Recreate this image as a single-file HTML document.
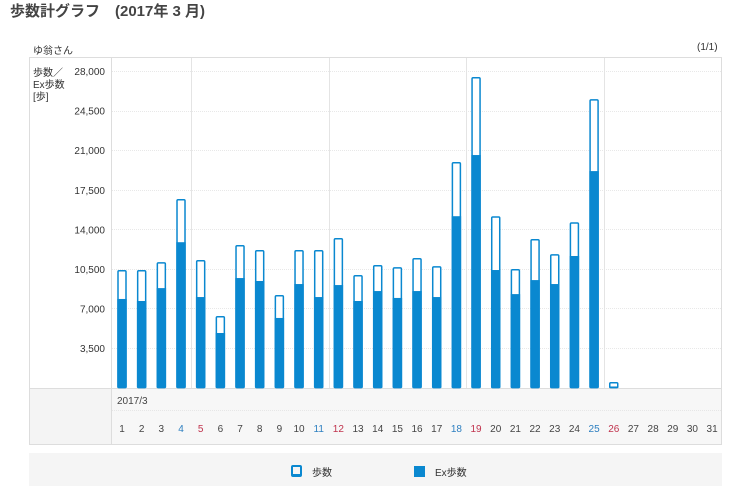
<!DOCTYPE html>
<html><head><meta charset="utf-8"><style>
body{margin:0;width:738px;height:488px;background:#fff;font-family:"Liberation Sans","Noto Sans CJK JP",sans-serif;position:relative;overflow:hidden;color:#333}
.t{position:absolute;white-space:nowrap}
</style></head><body>
<div class="t" style="left:10px;top:0px;font-size:15px;font-weight:bold;color:#444">歩数計グラフ　(2017年 3 月)</div>
<div class="t" style="left:33px;top:42px;font-size:10px">ゆ翁さん</div>
<div class="t" style="left:697px;top:42px;font-size:10px">(1/1)</div>
<svg id="chart" width="738" height="488" style="position:absolute;left:0;top:0">
<rect x="29.5" y="57.5" width="692" height="387" fill="#fff" stroke="#ddd"/>
<rect x="30" y="389" width="81" height="55" fill="#f4f4f4"/>
<rect x="111" y="389" width="610" height="55" fill="#f7f7f7"/>
<line x1="111.5" y1="58" x2="111.5" y2="444" stroke="#ddd"/>
<line x1="30" y1="388.5" x2="721" y2="388.5" stroke="#ddd"/>
<line x1="112" y1="410.5" x2="721" y2="410.5" stroke="#e6e6e6" stroke-dasharray="1,1"/>
<text x="33" y="76" font-size="10" fill="#333"><tspan x="33">歩数／</tspan><tspan x="33" dy="12">Ex歩数</tspan><tspan x="33" dy="12">[歩]</tspan></text>
<text x="117" y="404" font-size="10" fill="#444">2017/3</text>
<g id="g"></g>
</svg>
<div style="position:absolute;left:29px;top:453px;width:693px;height:33px;background:#f5f5f5"></div>
<div class="t" style="left:291px;top:464px;font-size:10px"><span style="display:inline-block;width:7px;height:7px;border:2px solid #0a88d0;border-bottom-width:3px;border-radius:2px;vertical-align:-1px;margin-right:10px"></span>歩数</div>
<div class="t" style="left:414px;top:464px;font-size:10px"><span style="display:inline-block;width:11px;height:11px;background:#0a88d0;vertical-align:-1px;margin-right:10px"></span>Ex歩数</div>
<script>
const days=[1,2,3,4,5,6,7,8,9,10,11,12,13,14,15,16,17,18,19,20,21,22,23,24,25,26,27,28,29,30,31];
const steps=[10400,10400,11100,16680,11290,6330,12610,12170,8190,12170,12170,13230,9960,10840,10660,11460,10750,19950,27470,15160,10490,13140,11810,14630,25520,500,0,0,0,0,0];
const exSteps=[7840,7660,8800,12860,8010,4830,9690,9430,6160,9160,8010,9070,7660,8540,7930,8540,8010,15160,20570,10400,8270,9510,9160,11640,19150,100,0,0,0,0,0];
const yTicks=[3500,7000,10500,14000,17500,21000,24500,28000];
const yTickLabels=["3,500","7,000","10,500","14,000","17,500","21,000","24,500","28,000"];
const sat=[4,11,18,25], sun=[5,12,19,26];
const NS="http://www.w3.org/2000/svg", g=document.getElementById('g');
const y=v=>387.6-v/3500*39.57;
const x=d=>122+(d-1)*19.67;
function mk(t,a){const e=document.createElementNS(NS,t);for(const k in a)e.setAttribute(k,a[k]);g.appendChild(e);return e;}
yTicks.forEach((v,i)=>{
 const l=mk('line',{x1:112,x2:721,y1:Math.round(y(v))+.5,y2:Math.round(y(v))+.5,stroke:'#e8e8e8','stroke-dasharray':'1,1'});
 
 
 const t=mk('text',{x:105,y:y(v)+4,'font-size':10,'text-anchor':'end',fill:'#333'});t.textContent=yTickLabels[i];
 
 
});
[4,11,18,25].forEach(d=>{
 const l=mk('line',{x1:Math.round(x(d)+9.8)+.5,x2:Math.round(x(d)+9.8)+.5,y1:58,y2:388,stroke:'#e4e4e4'});
 
 
});
days.forEach((d,i)=>{
 const cx=x(d);
 if(steps[i]>0){
  const r=mk('rect',{x:cx-4,y:y(steps[i])+.75,width:8,height:Math.max(387.6-y(steps[i])-.75,1),fill:'#fff',stroke:'#0a88d0','stroke-width':1.5,rx:1});
  
  
  const e=mk('rect',{x:cx-4.75,y:y(exSteps[i]),width:9.5,height:387.6-y(exSteps[i]),fill:'#0a88d0'});
  
  
 }
 const c=sat.includes(d)?'#2d7fc0':sun.includes(d)?'#c0334d':'#444';
 const t=mk('text',{x:cx,y:432,'font-size':10,'text-anchor':'middle',fill:c});t.textContent=d;
 
 
});
</script>
</body></html>
